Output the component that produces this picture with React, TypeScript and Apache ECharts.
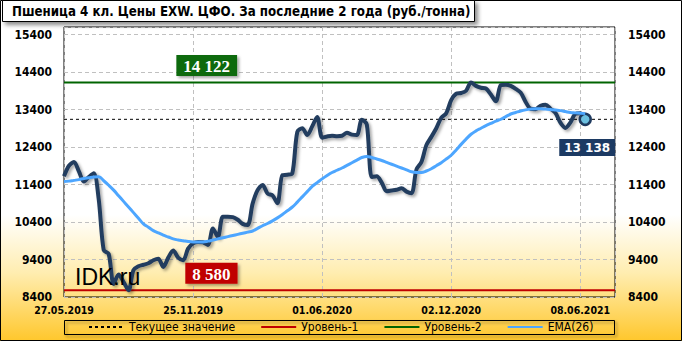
import React, { useEffect, useRef } from 'react';
import * as echarts from 'echarts';

const TITLE = 'Пшеница 4 кл. Цены EXW. ЦФО. За последние 2 года (руб./тонна)';
const xTickLabels = ['27.05.2019', '25.11.2019', '01.06.2020', '02.12.2020', '08.06.2021'];
const TICK_STEP = 26;
const X_MAX = 111;
const Y_MIN = 8400;
const Y_MAX = 15600;
const Y_STEP = 1000;

const prices = [
  11620, 11900, 12000, 11750, 11480, 11600, 11700, 11000, 9650, 9550,
  8750, 9000, 8800, 8580, 9120, 9220, 9260, 9300, 9380, 9420,
  9200, 9450, 9640, 9450, 9380, 9690, 9830, 9870, 9860, 9790,
  10230, 10000, 10540, 10540, 10530, 10460, 10350, 10320, 10890, 11250,
  11390, 11160, 11110, 10900, 11650, 11660, 11700, 12800, 12900, 12720,
  12950, 13200, 12650, 12680, 12700, 12690, 12700, 12780, 12730, 12720,
  13130, 13000, 11600, 11620, 11450, 11220, 11240, 11260, 11300, 11210,
  11170, 11800, 12000, 12450, 12670, 12900, 13180, 13300, 13650, 13820,
  13840, 13900, 14122, 14030, 13980, 13960, 13800, 13620, 14050, 14060,
  14030, 13950, 13850, 13600, 13420, 13410, 13500, 13530, 13420, 13310,
  13050, 12910, 13050, 13280, 13300, 13138,
];

const ema = [
  11480, 11490, 11510, 11530, 11560, 11580, 11600, 11610, 11500, 11380,
  11250, 11100, 10950, 10800, 10650, 10500, 10350, 10260, 10170, 10110,
  10050, 10000, 9950, 9920, 9900, 9880, 9870, 9870, 9870, 9890,
  9920, 9950, 9980, 10010, 10040, 10070, 10100, 10130, 10160, 10230,
  10300, 10360, 10430, 10510, 10600, 10700, 10800, 10930, 11070, 11210,
  11350, 11450, 11550, 11640, 11720, 11780, 11840, 11910, 11980, 12050,
  12120, 12150, 12120, 12080, 12040, 11990, 11940, 11890, 11840, 11790,
  11740, 11720, 11720, 11760, 11820, 11900, 11980, 12080, 12180, 12320,
  12470, 12610, 12740, 12830, 12900, 12970, 13030, 13090, 13140, 13210,
  13280, 13320, 13360, 13390, 13410, 13420, 13420, 13410, 13400, 13385,
  13370, 13345, 13320, 13310, 13300, 13290,
];

const LEVEL1 = 8580;
const LEVEL2 = 14122;
const CURRENT = prices[prices.length - 1];

const fmt = (v: number) => String(v).replace(/\B(?=(\d{3})+(?!\d))/g, ' ');

const COND = '"DejaVu Sans Condensed", "DejaVu Sans", sans-serif';

export default function App() {
  const ref = useRef<HTMLDivElement>(null);

  useEffect(() => {
    document.body.style.margin = '0';
    if (!ref.current) return;
    const chart = echarts.init(ref.current, undefined, { renderer: 'svg' });
    const lastIdx = prices.length - 1;

    const levelLabel = (bg: string, text: string) => ({
      show: true,
      position: 'top' as const,
      distance: 6,
      formatter: text,
      backgroundColor: bg,
      color: '#fff',
      fontFamily: '"Liberation Serif", serif',
      fontWeight: 'bold' as const,
      fontSize: 17,
      padding: [3, 7, 1, 7],
      shadowColor: 'rgba(0,0,0,0.35)',
      shadowBlur: 3,
      shadowOffsetX: 2,
      shadowOffsetY: 2,
    });

    chart.setOption({
      animation: false,
      graphic: [
        {
          type: 'rect',
          z: -100,
          silent: true,
          shape: { x: 0, y: 0, width: 682, height: 341 },
          style: {
            fill: new echarts.graphic.LinearGradient(0, 0, 0, 1, [
              { offset: 0, color: '#ffffff' },
              { offset: 0.63, color: '#ffffff' },
              { offset: 0.8, color: '#FFEDB0' },
              { offset: 1, color: '#FFC72C' },
            ]),
          },
        },
        {
          type: 'rect',
          z: 100,
          silent: true,
          shape: { x: 0.5, y: 0.5, width: 681, height: 340 },
          style: { fill: 'none', stroke: '#000', lineWidth: 1 },
        },
        {
          type: 'rect',
          z: 100,
          shape: { x: 2.5, y: 0.5, width: 472, height: 21 },
          style: {
            fill: '#fff',
            stroke: '#000',
            lineWidth: 1,
            shadowColor: 'rgba(0,0,0,0.45)',
            shadowBlur: 4,
            shadowOffsetX: 3,
            shadowOffsetY: 3,
          },
        },
        {
          type: 'text',
          z: 101,
          x: 12,
          y: 11.5,
          style: {
            text: TITLE,
            fontFamily: COND,
            fontWeight: 'bold',
            fontSize: 13.2,
            fill: '#000',
            verticalAlign: 'middle',
          },
        },
        {
          type: 'rect',
          z: 100,
          shape: { x: 64.5, y: 320.5, width: 550, height: 14 },
          style: {
            fill: 'none',
            stroke: '#000',
            lineWidth: 1,
            shadowColor: 'rgba(0,0,0,0.4)',
            shadowBlur: 3,
            shadowOffsetX: 2,
            shadowOffsetY: 2,
          },
        },
        {
          type: 'text',
          z: 100,
          x: 75,
          y: 277,
          style: {
            text: 'IDK.ru',
            fontFamily: '"Liberation Sans", Arial, sans-serif',
            fontSize: 23,
            fill: '#000',
            verticalAlign: 'middle',
          },
        },
      ],
      grid: {
        left: 64,
        right: 67,
        top: 27,
        bottom: 44,
        show: true,
        borderColor: '#000',
        borderWidth: 1,
        backgroundColor: 'transparent',
      },
      legend: {
        left: 88,
        top: 321,
        itemWidth: 35,
        itemHeight: 12,
        itemGap: 25,
        padding: 0,
        itemStyle: { opacity: 0 },
        textStyle: { fontFamily: COND, fontSize: 12, color: '#000' },
        data: ['Текущее значение', 'Уровень-1', 'Уровень-2', 'EMA(26)'],
      },
      xAxis: {
        type: 'value',
        min: 0,
        max: X_MAX,
        interval: TICK_STEP,
        axisLine: { show: false },
        axisTick: { show: false },
        splitLine: { show: true, lineStyle: { color: '#c0c0c0', type: [4, 3], width: 1 } },
        axisLabel: {
          margin: 7,
          fontFamily: COND,
          fontWeight: 'bold',
          fontSize: 10.5,
          color: '#000',
          formatter: (v: number) => (v % TICK_STEP === 0 ? xTickLabels[v / TICK_STEP] ?? '' : ''),
        },
      },
      yAxis: [
        {
          type: 'value',
          min: Y_MIN,
          max: Y_MAX,
          interval: Y_STEP,
          axisLine: { show: false },
          axisTick: { show: false },
          splitLine: { show: true, lineStyle: { color: '#c0c0c0', type: [4, 3], width: 1 } },
          axisLabel: {
            margin: 12,
            fontFamily: COND,
            fontWeight: 'bold',
            fontSize: 12,
            color: '#000',
            formatter: (v: number) => ((v - Y_MIN) % Y_STEP === 0 ? String(v) : ''),
          },
        },
        {
          type: 'value',
          position: 'right',
          min: Y_MIN,
          max: Y_MAX,
          interval: Y_STEP,
          axisLine: { show: false },
          axisTick: { show: false },
          splitLine: { show: false },
          axisLabel: {
            margin: 13,
            fontFamily: COND,
            fontWeight: 'bold',
            fontSize: 12,
            color: '#000',
            formatter: (v: number) => ((v - Y_MIN) % Y_STEP === 0 ? String(v) : ''),
          },
        },
      ],
      series: [
        {
          name: 'Текущее значение',
          type: 'line',
          z: 3,
          symbol: 'none',
          silent: true,
          data: [[0, CURRENT], [X_MAX, CURRENT]],
          lineStyle: { color: '#000', width: 1, type: [3, 3] },
          itemStyle: { color: '#000' },
        },
        {
          name: 'Уровень-1',
          type: 'line',
          z: 3,
          symbol: 'none',
          silent: true,
          data: [[0, LEVEL1], [X_MAX, LEVEL1]],
          lineStyle: { color: '#C00000', width: 2 },
          itemStyle: { color: '#C00000' },
          markPoint: {
            symbol: 'rect',
            symbolSize: 1,
            itemStyle: { color: 'transparent' },
            data: [{ coord: [29.7, LEVEL1], value: LEVEL1 }],
            label: levelLabel('#C00000', fmt(LEVEL1)),
          },
        },
        {
          name: 'Уровень-2',
          type: 'line',
          z: 3,
          symbol: 'none',
          silent: true,
          data: [[0, LEVEL2], [X_MAX, LEVEL2]],
          lineStyle: { color: '#006400', width: 2 },
          itemStyle: { color: '#006400' },
          markPoint: {
            symbol: 'rect',
            symbolSize: 1,
            itemStyle: { color: 'transparent' },
            data: [{ coord: [28.75, LEVEL2], value: LEVEL2 }],
            label: levelLabel('#0B6B0B', fmt(LEVEL2)),
          },
        },
        {
          name: 'Цена',
          type: 'line',
          z: 4,
          symbol: 'none',
          smooth: 0.3,
          data: prices.map((v, i) => [i, v]),
          lineStyle: {
            color: '#243D5E',
            width: 4,
            shadowColor: 'rgba(0,0,0,0.35)',
            shadowBlur: 3,
            shadowOffsetX: 2,
            shadowOffsetY: 2,
          },
          itemStyle: { color: '#243D5E' },
        },
        {
          name: 'EMA(26)',
          type: 'line',
          z: 5,
          symbol: 'none',
          smooth: 0.4,
          data: ema.map((v, i) => [i, v]),
          lineStyle: { color: '#4DA6FF', width: 3 },
          itemStyle: { color: '#4DA6FF' },
          markPoint: {
            symbol: 'circle',
            symbolSize: 11,
            itemStyle: { color: '#6CC0E0', borderColor: '#1F3A5F', borderWidth: 2.5 },
            data: [{ coord: [lastIdx, CURRENT], value: CURRENT }],
            label: {
              show: true,
              position: 'bottom',
              distance: 13,
              offset: [2, 0],
              formatter: fmt(CURRENT),
              backgroundColor: '#1C3A63',
              color: '#fff',
              fontFamily: '"DejaVu Sans", sans-serif',
              fontWeight: 'bold',
              fontSize: 12,
              padding: [3, 5, 2, 5],
            },
          },
        },
      ],
    });
    return () => chart.dispose();
  }, []);

  return <div ref={ref} style={{ width: 682, height: 341 }} />;
}
